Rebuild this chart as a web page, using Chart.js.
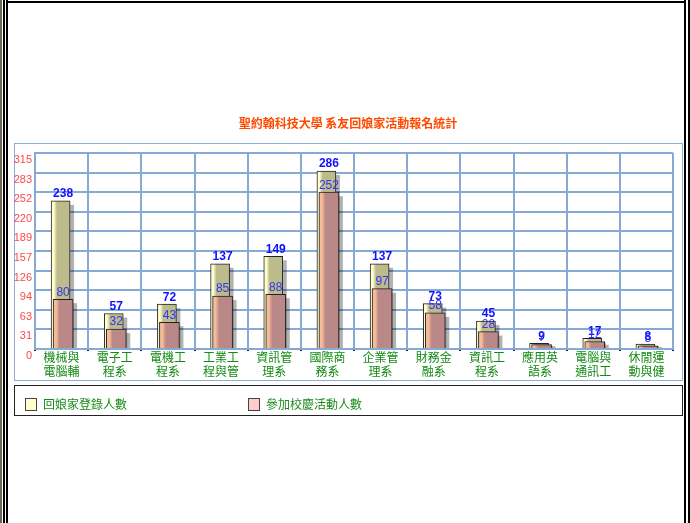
<!DOCTYPE html>
<html>
<head>
<meta charset="utf-8">
<script src="https://cdn.jsdelivr.net/npm/chart.js@4.4.1/dist/chart.umd.min.js"></script>
<style>
body { margin:0; width:690px; height:523px; background:#fff; position:relative; overflow:hidden; font-family:"Noto Sans CJK TC", sans-serif; }
.line { position:absolute; background:#000; }
#panel { position:absolute; left:14px; top:143px; width:667px; height:236px; border:1px solid #8aaed8; }
#chart { position:absolute; left:0; top:100px; }
#legend { position:absolute; left:14px; top:385px; width:667px; height:29px; border:1px solid #222; }
.item { position:absolute; top:11px; display:flex; align-items:center; font-size:12px; line-height:14px; color:#1a8a1a; }
.box { width:10px; height:11px; border:1px solid #444; margin-right:6px; }
</style>
</head>
<body>
<div class="line" style="left:0;top:0;width:2px;height:523px;background:#6b6658"></div>
<div class="line" style="left:3px;top:0;width:2px;height:523px"></div>
<div class="line" style="left:6px;top:0;width:2px;height:523px"></div>
<div class="line" style="left:6px;top:1px;width:680px;height:2px"></div>
<div class="line" style="left:684px;top:0;width:2px;height:523px"></div>
<div class="line" style="left:688px;top:0;width:2px;height:523px"></div>
<div id="panel"></div>
<canvas id="chart" width="690" height="290"></canvas>
<div id="legend"></div>
<script>
// data
let chartTitle = '聖約翰科技大學 系友回娘家活動報名統計';
let categories = [
    ['機械與', '電腦輔'], ['電子工', '程系'], ['電機工', '程系'], ['工業工', '程與管'],
    ['資訊管', '理系'], ['國際商', '務系'], ['企業管', '理系'], ['財務金', '融系'],
    ['資訊工', '程系'], ['應用英', '語系'], ['電腦與', '通訊工'], ['休閒運', '動與健']
];
let seriesNames = ['回娘家登錄人數', '參加校慶活動人數'];
let registered = [238, 57, 72, 137, 149, 286, 137, 73, 45, 9, 17, 8];
let attended = [80, 32, 43, 85, 88, 252, 97, 58, 28, 7, 12, 5];
let yMax = 315;
let yStep = 31.5;

let cjk = '"Noto Sans CJK TC", sans-serif';
let gridColor = '#86aad6';
let legendColors = ['#ffffcc', '#ffcccc'];
let barShift = [-1, 1.5];

// light strip on the left of each bar
function barFill(light, body){
    return function(c){
        let chart = c.chart;
        if (c.type !== 'data' || !chart.scales.x) return body;
        let x = chart.scales.x.getPixelForValue(c.dataIndex);
        if (!isFinite(x)) return body;
        let g = chart.ctx.createLinearGradient(x - 10, 0, x + 10, 0);
        g.addColorStop(0, light);
        g.addColorStop(0.16, light);
        g.addColorStop(0.32, body);
        g.addColorStop(1, body);
        return g;
    };
}

let barLook = {
    id: 'barLook',
    beforeDatasetDraw(chart, args){
        let ctx = chart.ctx;
        ctx.save();
        ctx.translate(barShift[args.index], 0);
        ctx.fillStyle = 'rgba(0,0,0,0.3)';
        args.meta.data.forEach((bar)=>{
            let p = bar.getProps(['x', 'y', 'base', 'width'], true);
            let drop = Math.min(4, (p.base - p.y) / 2);
            ctx.fillRect(p.x - p.width / 2 + 4, p.y + drop, p.width, p.base - p.y - drop);
        });
    },
    afterDatasetDraw(chart){
        chart.ctx.restore();
    }
};

let valueLabels = {
    id: 'valueLabels',
    afterDatasetsDraw(chart){
        let ctx = chart.ctx;
        let fonts = ['bold 12px "Liberation Sans", sans-serif', '12px "Liberation Sans", sans-serif'];
        let colors = ['#1010ff', '#3434f4'];
        ctx.save();
        ctx.textAlign = 'center';
        ctx.textBaseline = 'bottom';
        chart.data.datasets.forEach((ds, i)=>{
            let meta = chart.getDatasetMeta(i);
            ctx.font = fonts[i];
            ctx.fillStyle = colors[i];
            meta.data.forEach((bar, j)=>{
                ctx.fillText(ds.data[j], bar.x + 1.5, bar.y - 1);
            });
        });
        ctx.restore();
    }
};

let ctx = document.getElementById('chart').getContext('2d');
let chart = new Chart(ctx, {
    type: 'bar',
    data: {
        labels: categories,
        datasets: [{
            label: seriesNames[0],
            data: registered,
            backgroundColor: barFill('#ffffd0', '#bcbb8c'),
            borderColor: '#222',
            borderWidth: 1,
            barThickness: 19,
            grouped: false,
            order: 1,
            clip: {left: false, top: false, right: false, bottom: 0}
        }, {
            label: seriesNames[1],
            data: attended,
            backgroundColor: barFill('#f4bc98', '#bb8888'),
            borderColor: '#222',
            borderWidth: 1,
            barThickness: 20,
            grouped: false,
            order: 0,
            clip: {left: false, top: false, right: false, bottom: 0}
        }]
    },
    options: {
        responsive: false,
        animation: false,
        devicePixelRatio: 1,
        layout: { padding: {left: 6, right: 0, top: 0, bottom: 5} },
        plugins: {
            legend: { display: false },
            tooltip: { enabled: false },
            title: {
                display: true,
                text: chartTitle,
                color: '#ff4a00',
                font: { family: cjk, size: 12, weight: 'bold', lineHeight: 1.2 },
                padding: { top: 16, bottom: 22.6 }
            }
        },
        scales: {
            x: {
                grid: { color: gridColor, lineWidth: 2, tickColor: '#222', tickLength: 2, tickWidth: 2 },
                border: { color: gridColor, width: 2 },
                ticks: {
                    color: '#138a13',
                    font: { family: cjk, size: 12, lineHeight: 1.15 },
                    padding: 0,
                    maxRotation: 0,
                    autoSkip: false
                },
                afterFit: (s)=>{ s.height = 36; }
            },
            y: {
                min: 0,
                max: yMax,
                grid: { color: gridColor, lineWidth: 2, drawTicks: false },
                border: { color: gridColor, width: 2 },
                ticks: {
                    stepSize: yStep,
                    color: '#ff4848',
                    font: { family: '"Liberation Sans", sans-serif', size: 11 },
                    padding: 3,
                    labelOffset: 7,
                    callback: (v)=> Math.floor(v + 1e-6)
                },
                afterFit: (s)=>{ s.width = 29; }
            },
            // empty strip on the right so the plot ends where the picture's does
            spacer: {
                type: 'linear',
                position: 'right',
                grid: { display: false },
                border: { display: false },
                ticks: { display: false },
                afterFit: (s)=>{ s.width = 17; }
            }
        }
    },
    plugins: [barLook, valueLabels]
});

// legend in its own box under the chart
let legend = document.getElementById('legend');
let itemLeft = [10, 233];
chart.data.datasets.forEach((ds, i)=>{
    let item = document.createElement('div');
    item.className = 'item';
    item.style.left = itemLeft[i] + 'px';
    let box = document.createElement('span');
    box.className = 'box';
    box.style.background = legendColors[i];
    item.appendChild(box);
    item.appendChild(document.createTextNode(ds.label));
    legend.appendChild(item);
});
</script>
</body>
</html>
